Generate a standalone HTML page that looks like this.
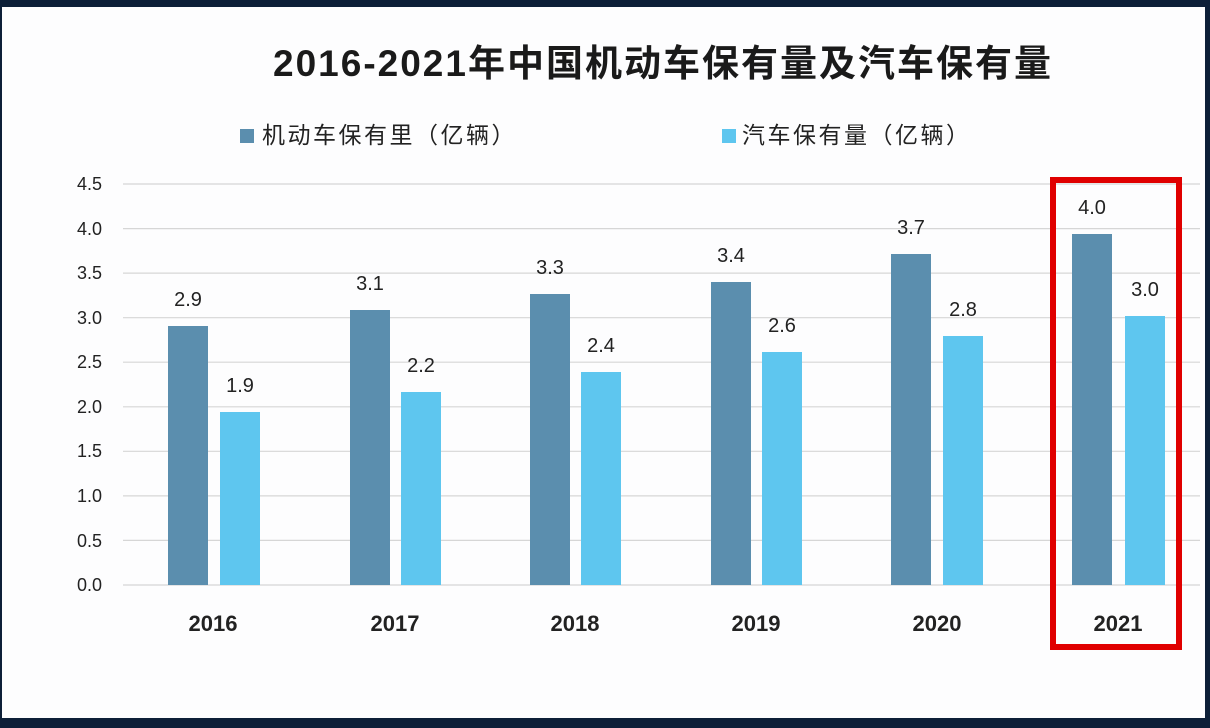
<!DOCTYPE html>
<html><head><meta charset="utf-8"><style>
body{margin:0;width:1210px;height:728px;background:#0d1f38;overflow:hidden}
</style></head><body>
<svg width="1210" height="728" xmlns="http://www.w3.org/2000/svg" style="position:absolute;left:0;top:0">
<rect x="2" y="7" width="1203" height="711" fill="#fdfdfe"/>
<text x="663" y="76" text-anchor="middle" font-family="Liberation Sans,'Noto Sans CJK SC',sans-serif" font-weight="bold" font-size="37" letter-spacing="2" fill="#1a1a1a">2016-2021年中国机动车保有量及汽车保有量</text>
<rect x="240" y="129" width="14" height="14" fill="#5b8eae"/>
<text x="262" y="143" font-family="Liberation Sans,'Noto Sans CJK SC',sans-serif" font-size="23" letter-spacing="2.5" fill="#222">机动车保有里（亿辆）</text>
<rect x="722" y="129" width="14" height="14" fill="#5ec6ef"/>
<text x="742" y="143" font-family="Liberation Sans,'Noto Sans CJK SC',sans-serif" font-size="23" letter-spacing="2.5" fill="#222">汽车保有量（亿辆）</text>
<g stroke="#d6d6d6" stroke-width="1.2">
<line x1="123" x2="1200" y1="184" y2="184"/><line x1="123" x2="1200" y1="228.6" y2="228.6"/>
<line x1="123" x2="1200" y1="273.1" y2="273.1"/><line x1="123" x2="1200" y1="317.7" y2="317.7"/>
<line x1="123" x2="1200" y1="362.2" y2="362.2"/><line x1="123" x2="1200" y1="406.8" y2="406.8"/>
<line x1="123" x2="1200" y1="451.3" y2="451.3"/><line x1="123" x2="1200" y1="495.9" y2="495.9"/>
<line x1="123" x2="1200" y1="540.4" y2="540.4"/><line x1="123" x2="1200" y1="585" y2="585"/>
</g>
<g font-family="Liberation Sans,sans-serif" font-size="18" fill="#222" text-anchor="end">
<text x="102" y="190">4.5</text><text x="102" y="235">4.0</text><text x="102" y="279">3.5</text>
<text x="102" y="324">3.0</text><text x="102" y="368">2.5</text><text x="102" y="413">2.0</text>
<text x="102" y="457">1.5</text><text x="102" y="502">1.0</text><text x="102" y="547">0.5</text>
<text x="102" y="591">0.0</text>
</g>
<g fill="#5b8eae">
<rect x="168" y="326" width="40" height="259"/><rect x="350" y="310" width="40" height="275"/>
<rect x="530" y="294" width="40" height="291"/><rect x="711" y="282" width="40" height="303"/>
<rect x="891" y="254" width="40" height="331"/><rect x="1072" y="234" width="40" height="351"/>
</g>
<g fill="#5ec6ef">
<rect x="220" y="412" width="40" height="173"/><rect x="401" y="392" width="40" height="193"/>
<rect x="581" y="372" width="40" height="213"/><rect x="762" y="352" width="40" height="233"/>
<rect x="943" y="336" width="40" height="249"/><rect x="1125" y="316" width="40" height="269"/>
</g>
<g font-family="Liberation Sans,sans-serif" font-size="20" fill="#222" text-anchor="middle">
<text x="188" y="306">2.9</text><text x="370" y="290">3.1</text><text x="550" y="274">3.3</text>
<text x="731" y="262">3.4</text><text x="911" y="234">3.7</text><text x="1092" y="214">4.0</text>
<text x="240" y="392">1.9</text><text x="421" y="372">2.2</text><text x="601" y="352">2.4</text>
<text x="782" y="332">2.6</text><text x="963" y="316">2.8</text><text x="1145" y="296">3.0</text>
</g>
<g font-family="Liberation Sans,sans-serif" font-size="22" font-weight="bold" fill="#222" text-anchor="middle">
<text x="213" y="631">2016</text><text x="395" y="631">2017</text><text x="575" y="631">2018</text>
<text x="756" y="631">2019</text><text x="937" y="631">2020</text><text x="1118" y="631">2021</text>
</g>
<rect x="1053" y="180" width="126" height="467" fill="none" stroke="#e00000" stroke-width="6"/>
</svg>
</body></html>
